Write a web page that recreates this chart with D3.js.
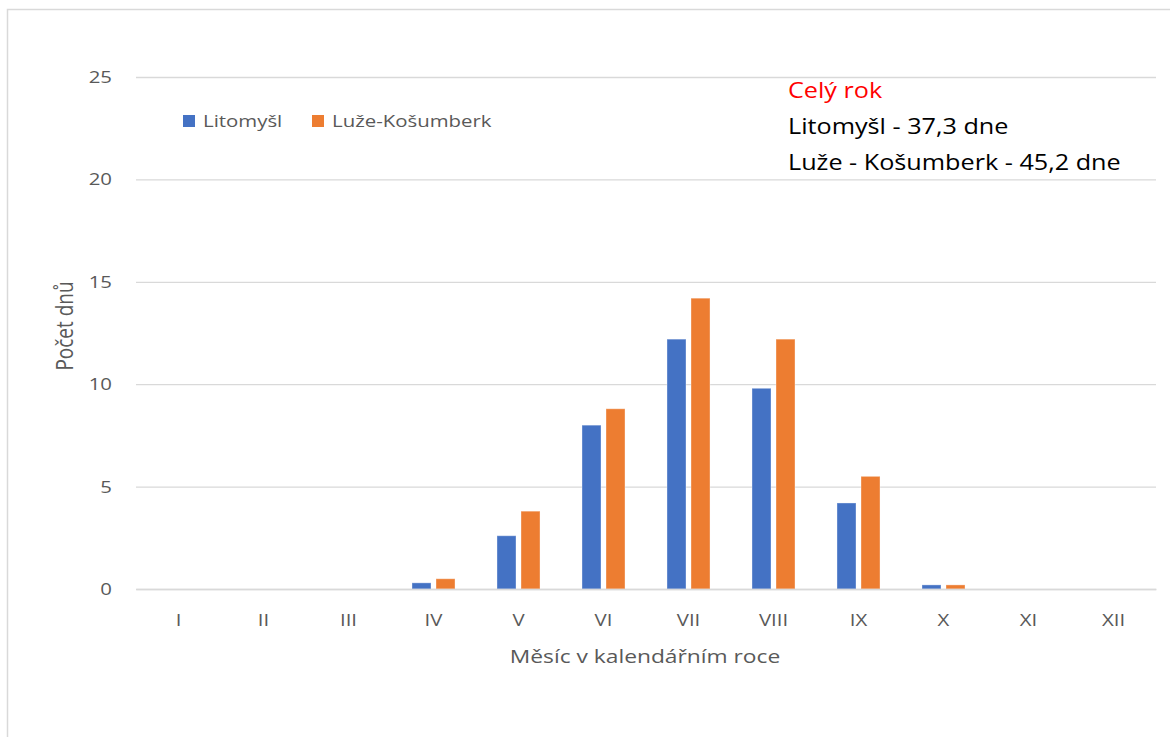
<!DOCTYPE html>
<html>
<head>
<meta charset="utf-8">
<script src="https://cdn.jsdelivr.net/npm/d3@7"></script>
<style>
  body { margin: 0; background: #fff; }
  svg { display: block; font-family: "Open Sans", sans-serif; }
</style>
</head>
<body>
<div id="chart"></div>
<script>
// données
const months = ["I", "II", "III", "IV", "V", "VI", "VII", "VIII", "IX", "X", "XI", "XII"];
const seriesNames = ["Litomyšl", "Luže-Košumberk"];
const litomysl = [0, 0, 0, 0.3, 2.6, 8.0, 12.2, 9.8, 4.2, 0.2, 0, 0];
const luze = [0, 0, 0, 0.5, 3.8, 8.8, 14.2, 12.2, 5.5, 0.2, 0, 0];
const yTicks = [0, 5, 10, 15, 20, 25];
const noteLines = ["Celý rok", "Litomyšl - 37,3 dne", "Luže - Košumberk - 45,2 dne"];

const colors = { "Litomyšl": "#4472C4", "Luže-Košumberk": "#ED7D31" };
const SX = 1.2; // le texte d'origine est étiré horizontalement

const width = 1170, height = 737;
const margin = { top: 77, right: 14, bottom: 148, left: 136 };

const svg = d3.select("#chart").append("svg")
    .attr("width", width).attr("height", height);

// cadre
svg.append("rect")
    .attr("x", 7.5).attr("y", 9.5)
    .attr("width", width + 20).attr("height", height + 20)
    .attr("fill", "none").attr("stroke", "#d9d9d9").attr("stroke-width", 1.5);

const x0 = d3.scaleBand()
    .domain(months)
    .range([margin.left, width - margin.right])
    .paddingInner(0.494).paddingOuter(0.247);

const x1 = d3.scaleBand()
    .domain(seriesNames)
    .range([0, x0.bandwidth()])
    .paddingInner(0.2083);

const y = d3.scaleLinear()
    .domain([0, 25])
    .range([height - margin.bottom, margin.top]);

// axe Y + grille
const yAxis = svg.append("g")
    .attr("transform", `translate(${margin.left},0)`)
    .call(d3.axisLeft(y).tickValues(yTicks).tickSize(-(width - margin.right - margin.left)).tickPadding(0));
yAxis.select(".domain").remove();
yAxis.selectAll(".tick line").attr("stroke", "#d9d9d9").attr("stroke-width", 1.3);
yAxis.selectAll(".tick text")
    .attr("x", -20)
    .attr("transform", `scale(${SX},1)`)
    .style("font-size", "17px")
    .style("font-family", "Open Sans")
    .attr("fill", "#595959");

// barres
const rows = months.map((m, i) => ({ month: m, values: [
    { key: seriesNames[0], value: litomysl[i] },
    { key: seriesNames[1], value: luze[i] }
] }));

svg.append("g")
    .selectAll("g")
    .data(rows)
    .join("g")
    .attr("transform", d => `translate(${x0(d.month)},0)`)
    .selectAll("rect")
    .data(d => d.values)
    .join("rect")
    .attr("x", d => x1(d.key))
    .attr("y", d => y(d.value))
    .attr("width", x1.bandwidth())
    .attr("height", d => y(0) - y(d.value))
    .attr("fill", d => colors[d.key])
    .attr("stroke", "#fff")
    .attr("stroke-opacity", 0.35)
    .attr("stroke-width", 1);

// axe X
const xAxis = svg.append("g")
    .attr("transform", `translate(0,${y(0)})`)
    .call(d3.axisBottom(x0).tickSize(0));
xAxis.select(".domain").attr("stroke", "#d9d9d9").attr("stroke-width", 1.5);
xAxis.selectAll(".tick text")
    .attr("y", 31).attr("dy", "0.35em")
    .attr("transform", `scale(${SX},1)`)
    .style("font-size", "17px")
    .style("font-family", "Open Sans")
    .attr("fill", "#595959");

// titres des axes
svg.append("text")
    .attr("transform", `translate(645,663) scale(${SX},1)`)
    .attr("text-anchor", "middle")
    .style("font-size", "19px")
    .attr("fill", "#595959")
    .text("Měsíc v kalendářním roce");

svg.append("text")
    .attr("transform", `translate(73,326) rotate(-90) scale(1,${SX})`)
    .attr("text-anchor", "middle")
    .style("font-size", "19px")
    .attr("fill", "#595959")
    .text("Počet dnů");

// légende
const legendX = [183, 312];
const legend = svg.append("g")
    .selectAll("g")
    .data(seriesNames)
    .join("g")
    .attr("transform", (d, i) => `translate(${legendX[i]},121)`);
legend.append("rect")
    .attr("x", 0).attr("y", -6)
    .attr("width", 12).attr("height", 12)
    .attr("fill", d => colors[d]);
legend.append("text")
    .attr("transform", `translate(20,0) scale(${SX},1)`)
    .attr("dy", "0.35em")
    .style("font-size", "17px")
    .attr("fill", "#595959")
    .text(d => d);

// annotation
svg.append("g")
    .selectAll("text")
    .data(noteLines)
    .join("text")
    .attr("transform", (d, i) => `translate(788,${98 + i * 36}) scale(${SX},1)`)
    .style("font-size", "21px")
    .attr("fill", (d, i) => i === 0 ? "#ff0000" : "#000")
    .text(d => d);
</script>
</body>
</html>
